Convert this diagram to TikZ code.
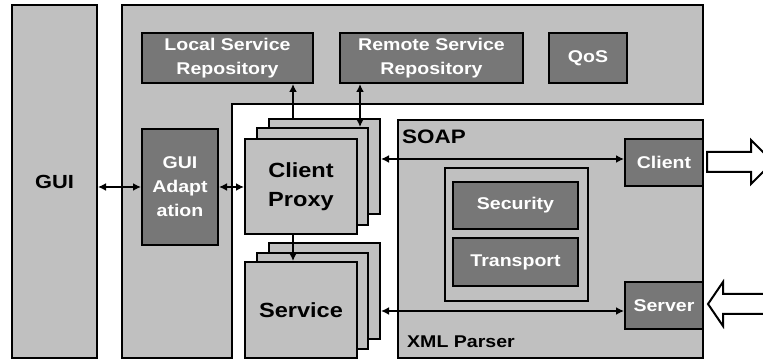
\documentclass[tikz,border=0pt]{standalone}
\usepackage{fontspec}
\newfontfamily\lab{Liberation Sans}[FakeStretch=1.15]
\usetikzlibrary{arrows.meta}
\definecolor{lgray}{HTML}{C0C0C0}
\definecolor{dgray}{HTML}{777777}
\newcommand\mybox[7]{\node[#6, minimum width={(#4-#2)*1pt}, minimum height={(#5-#3)*1pt}] (#1) at ({(#2+#4)/2},{(#3+#5)/2}) {#7};}
\begin{document}
\begin{tikzpicture}[x=1pt,y=-1pt,
 base/.style={draw=black, line width=2pt, inner sep=0pt, align=center},
 light/.style={base, fill=lgray},
 dark/.style={base, fill=dgray, text=white, font=\lab\bfseries\fontsize{17}{24}\selectfont},
 big/.style={font=\lab\bfseries\fontsize{20.5}{29}\selectfont},
 small/.style={font=\lab\bfseries\fontsize{17}{24}\selectfont},
 conn/.style={line width=1.6pt, {Latex[length=8pt,width=8pt]}-{Latex[length=8pt,width=8pt]}},
 conn1/.style={line width=1.6pt, -{Latex[length=8pt,width=8pt]}},
 block/.style={draw=black, line width=2pt, fill=white, line join=miter}
]
\useasboundingbox (0,0) rectangle (763,363);
\fill[white] (0,0) rectangle (763,363);
% GUI
\mybox{gui}{12}{5}{97}{358}{light, font=\lab\bfseries\fontsize{19}{24}\selectfont}{GUI}
% main L-shaped frame
\draw[line width=2pt, fill=lgray] (122,5) -- (703,5) -- (703,104) -- (232,104) -- (232,358) -- (122,358) -- cycle;
\mybox{lsr}{142}{33}{313}{83}{dark}{Local Service\\Repository}
\mybox{rsr}{340}{33}{523}{83}{dark}{Remote Service\\Repository}
\mybox{qos}{549}{33}{627}{83}{dark}{QoS}
\mybox{guiad}{142}{129}{218}{245}{dark}{GUI\\Adapt\\ation}
% client proxy stack
\mybox{cp3}{269}{119}{380}{214}{light}{}
\mybox{cp2}{257}{128}{368}{225}{light}{}
\mybox{cp1}{245}{139}{357}{234}{light, big}{Client\\Proxy}
% service stack
\mybox{sv3}{269}{243}{380}{339}{light}{}
\mybox{sv2}{257}{253}{368}{349}{light}{}
\mybox{sv1}{245}{262}{357}{358}{light, big}{Service}
% SOAP
\mybox{soap}{398}{120}{703}{358}{light}{}
\node[small, font=\lab\fontsize{19.5}{24}\selectfont\bfseries, anchor=west, inner sep=0pt] (soaplbl) at (402,136.5) {SOAP};
\node[small, anchor=west, inner sep=0pt] (xmllbl) at (407,341.5) {XML Parser};
\mybox{cont}{445}{168}{588}{301}{light}{}
\mybox{sec}{453}{182}{578}{229}{dark}{Security}
\mybox{tra}{453}{238}{578}{286}{dark}{Transport}
\mybox{scl}{625}{139}{703}{186}{dark}{Client}
\mybox{ssv}{625}{282}{703}{329}{dark}{Server}
% connector helper coordinates
\coordinate (xa) at (293,0);
\coordinate (xb) at (360,0);
\coordinate (ya) at (0,159);
\coordinate (yb) at (0,311);
% connectors
\draw[conn] (gui.east |- guiad.west) -- (guiad.west);
\draw[conn] (guiad.east) -- (guiad.east -| cp1.west);
\draw[conn1] (cp3.north -| xa) -- (lsr.south -| xa);
\draw[conn] (rsr.south -| xb) -- (cp2.north -| xb);
\draw[conn] (cp3.east |- ya) -- (scl.west |- ya);
\draw[conn] (sv3.east |- yb) -- (ssv.west |- yb);
\draw[conn1] (cp1.south -| xa) -- (sv1.north -| xa);
% hollow block arrows
\begin{scope}
\clip (0,0) rectangle (763,363);
\draw[block] (707,152) -- (751,152) -- (751,140) -- (773,162) -- (751,184) -- (751,172) -- (707,172) -- cycle;
\fill[white] (770,294) -- (723,294) -- (723,282) -- (708,304) -- (723,326) -- (723,314) -- (770,314) -- cycle;
\draw[block, fill=none] (770,294) -- (723,294) -- (723,282) -- (708,304) -- (723,326) -- (723,314) -- (770,314);
\end{scope}
\end{tikzpicture}
\end{document}
